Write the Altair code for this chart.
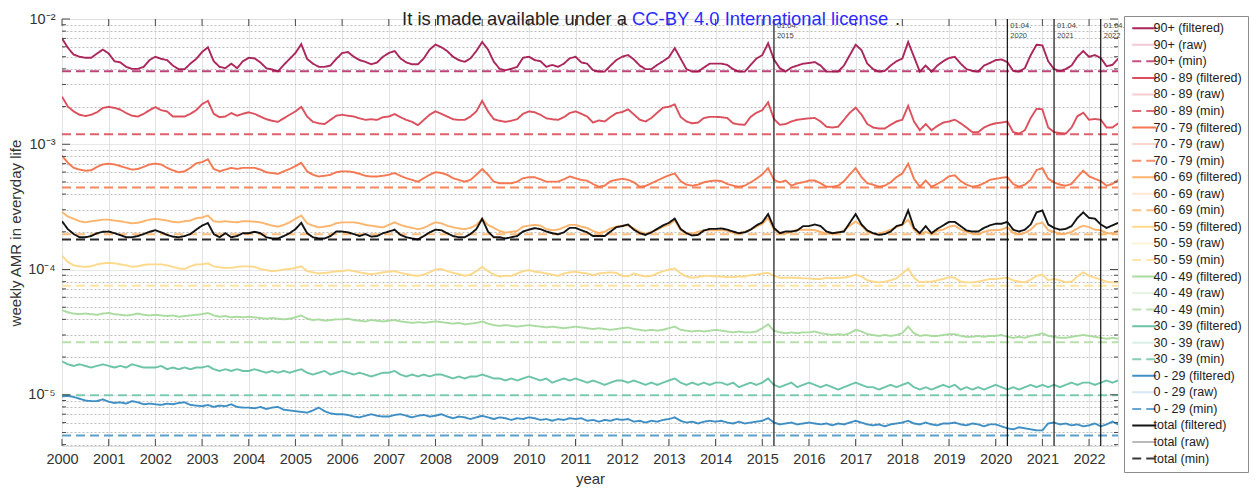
import altair as alt
import pandas as pd

# ---------------- data (weekly AMR, values per million, sampled every 1/8 year from 2000.0) ----------
START_YEAR = 2000.0
STEP = 0.125
X_END = 2022.62

groups = ["90+", "80 - 89", "70 - 79", "60 - 69", "50 - 59", "40 - 49", "30 - 39", "0 - 29", "total"]

amr_90 = [
    7000, 5900, 5200, 5000, 4900, 4900, 5300, 5700,
    5300, 4600, 4500, 4150, 4000, 4000, 4150, 4700,
    5000, 4800, 4700, 4250, 3970, 3970, 4400, 4800,
    5450, 5950, 4600, 4150, 4050, 4400, 4050, 4600,
    4900, 4850, 4500, 4050, 3950, 3820, 4300, 4800,
    5350, 6300, 4800, 4400, 4150, 4150, 4250, 4800,
    5350, 5450, 5000, 4700, 4550, 4350, 4500, 5000,
    5350, 5550, 4850, 4500, 4350, 4350, 4850, 5700,
    6250, 5950, 5550, 5000, 4700, 4550, 4850, 5550,
    6550, 5700, 4550, 4000, 3900, 4000, 4150, 4900,
    5000, 4700, 4600, 4150, 4300, 4150, 4400, 4850,
    5000, 4500, 4400, 3900, 3800, 3800, 4250, 4700,
    5000, 5150, 4750, 4250, 3980, 3980, 4300, 4600,
    4950, 5850, 4830, 3980, 3800, 3800, 4100, 4400,
    4400, 4400, 4300, 3980, 3800, 3800, 4300, 4830,
    5150, 6400, 4750, 4050, 3800, 4100, 4250, 4400,
    4450, 4530, 4250, 3800, 3800, 3800, 4250, 5150,
    6230, 5650, 4400, 3980, 3800, 3850, 4250, 4600,
    4830, 6550, 4990, 3800, 4250, 3800, 4250, 4600,
    4880, 4990, 4400, 3980, 3850, 3800, 4250, 4450,
    4700, 4750, 4530, 3850, 3800, 4050, 5150, 6230,
    6150, 4600, 3980, 3850, 3980, 4250, 4990, 5550,
    4990, 5150, 4880, 4200, 4300, 4830,
]
amr_80 = [
    2400, 2000, 1830, 1720, 1680, 1720, 1800, 1950,
    1990, 1950, 1890, 1775, 1690, 1665, 1750, 1870,
    1980, 1870, 1830, 1665, 1665, 1665, 1750, 1870,
    2090, 2220, 1750, 1645, 1665, 1775, 1690, 1750,
    1800, 1750, 1665, 1585, 1540, 1510, 1610, 1720,
    1830, 1990, 1665, 1510, 1470, 1450, 1565, 1690,
    1720, 1690, 1665, 1610, 1565, 1585, 1565, 1645,
    1665, 1740, 1645, 1565, 1510, 1420, 1565, 1720,
    1830, 1750, 1665, 1585, 1565, 1565, 1665, 1830,
    2220, 1830, 1585, 1540, 1510, 1540, 1585, 1750,
    1830, 1800, 1720, 1610, 1585, 1565, 1645, 1775,
    1830, 1750, 1665, 1490, 1550, 1520, 1650, 1770,
    1810, 1900, 1730, 1570, 1520, 1620, 1785, 1960,
    1990, 2080, 1655, 1520, 1470, 1490, 1620, 1655,
    1655, 1645, 1620, 1470, 1440, 1430, 1655, 1785,
    1870, 2160, 1590, 1430, 1450, 1520, 1570, 1590,
    1610, 1620, 1520, 1380, 1360, 1380, 1570, 1785,
    1960, 1730, 1450, 1360, 1335, 1335, 1430, 1520,
    1570, 2025, 1520, 1295, 1450, 1295, 1400, 1490,
    1520, 1570, 1470, 1360, 1250, 1250, 1360, 1430,
    1470, 1490, 1520, 1250, 1215, 1295, 1620, 1920,
    1900, 1360, 1250, 1230, 1215, 1360, 1675, 1785,
    1570, 1590, 1570, 1360, 1360, 1470,
]
amr_70 = [
    808, 712, 648, 628, 615, 620, 660, 690,
    700, 690, 669, 648, 628, 635, 660, 690,
    700, 690, 648, 620, 598, 608, 648, 705,
    720, 758, 635, 608, 628, 648, 635, 648,
    648, 648, 628, 598, 589, 580, 608, 635,
    669, 712, 608, 571, 553, 560, 571, 598,
    608, 608, 598, 580, 560, 553, 553, 560,
    571, 589, 560, 536, 519, 503, 536, 571,
    598, 589, 571, 536, 519, 503, 519, 571,
    635, 571, 503, 488, 488, 488, 503, 536,
    545, 545, 525, 503, 503, 503, 525, 553,
    536, 519, 512, 481, 458, 467, 508, 520,
    530, 520, 497, 458, 465, 488, 513, 540,
    565, 584, 508, 476, 467, 476, 497, 508,
    513, 508, 482, 467, 458, 467, 497, 530,
    575, 645, 520, 497, 513, 467, 488, 497,
    513, 513, 488, 458, 458, 467, 508, 575,
    645, 547, 488, 476, 458, 467, 497, 547,
    584, 700, 530, 458, 513, 458, 482, 513,
    555, 565, 508, 476, 458, 467, 488, 520,
    530, 540, 547, 482, 458, 476, 520, 622,
    645, 530, 497, 476, 467, 482, 547, 615,
    555, 530, 508, 467, 482, 520,
]
amr_60 = [
    288, 265, 254, 243, 238, 243, 246, 250,
    250, 246, 243, 238, 234, 236, 243, 250,
    254, 250, 246, 240, 238, 243, 246, 257,
    260, 270, 243, 240, 243, 240, 238, 243,
    243, 241, 238, 231, 224, 220, 227, 238,
    254, 270, 234, 224, 217, 220, 224, 234,
    238, 238, 238, 234, 227, 224, 220, 217,
    227, 238, 227, 220, 215, 210, 215, 227,
    238, 234, 224, 217, 213, 210, 215, 227,
    254, 227, 215, 203, 197, 200, 203, 220,
    224, 227, 224, 210, 206, 208, 217, 227,
    227, 220, 215, 203, 196, 200, 213, 220,
    224, 224, 213, 200, 193, 200, 208, 220,
    227, 248, 206, 196, 193, 200, 206, 206,
    206, 206, 204, 196, 196, 200, 208, 220,
    231, 258, 208, 196, 193, 200, 208, 208,
    208, 206, 200, 193, 193, 196, 206, 224,
    242, 224, 200, 193, 193, 200, 208, 218,
    227, 250, 208, 191, 200, 191, 204, 208,
    220, 224, 208, 200, 193, 191, 200, 206,
    206, 208, 218, 196, 191, 196, 208, 231,
    237, 206, 200, 193, 193, 200, 213, 224,
    218, 208, 206, 196, 193, 206,
]
amr_50 = [
    129, 115, 108, 106, 105, 106, 110, 112,
    113, 112, 110, 108, 105, 106, 109, 110,
    110, 110, 108, 105, 102, 101, 106, 110,
    110, 112, 106, 104, 103, 103, 105, 106,
    106, 105, 101, 99, 97, 98, 100, 101,
    103, 106, 97, 95, 93, 94, 95, 97,
    97, 99, 97, 95, 93, 92, 93, 95,
    96, 97, 94, 92, 90, 89, 91, 95,
    100, 101, 97, 94, 92, 89, 91, 97,
    105, 97, 91, 88, 89, 89, 93, 97,
    99, 96, 95, 93, 91, 89, 93, 95,
    96, 94, 93, 90, 93, 94, 95, 94,
    89, 88, 93, 90, 88, 89, 93, 97,
    100, 102, 93, 88, 86, 87, 89, 89,
    88, 88, 87, 87, 88, 88, 90, 91,
    93, 94, 89, 86, 86, 86, 86, 85,
    85, 84, 84, 86, 85, 86, 86, 88,
    91, 88, 82, 80, 79, 80, 82, 85,
    93, 102, 86, 79, 80, 80, 82, 84,
    87, 86, 80, 79, 79, 80, 82, 84,
    84, 85, 86, 82, 80, 79, 83, 89,
    91, 82, 84, 82, 79, 80, 88, 95,
    89, 86, 83, 80, 79, 79,
]
amr_40 = [
    47.5, 45.5, 44.5, 44.0, 44.5, 44.0, 43.5, 44.5,
    45.0, 44.0, 43.5, 43.0, 43.5, 44.5, 43.5, 43.0,
    43.5, 43.0, 42.5, 43.0, 42.0, 42.5, 43.0, 43.5,
    44.0, 45.0, 43.0, 42.0, 42.5, 41.5, 42.0, 41.5,
    42.0, 41.5, 41.0, 40.5, 41.0, 40.5, 40.0, 40.5,
    41.5, 43.0, 40.5, 39.5, 40.0, 39.0, 39.5, 40.0,
    40.0, 40.5, 39.5, 39.0, 38.5, 39.5, 39.0, 38.5,
    39.0, 39.5, 38.5, 38.0, 37.5, 38.0, 37.5, 38.0,
    38.5, 38.0, 37.5, 37.0, 37.5, 36.5, 37.0, 37.5,
    38.5, 37.0, 36.0, 35.5, 36.0, 35.5, 35.0, 35.5,
    36.0, 35.5, 35.0, 34.5, 35.0, 34.5, 34.0, 34.5,
    35.0, 34.5, 34.0, 33.5, 34.0, 33.5, 33.0, 33.5,
    34.0, 34.5, 33.5, 33.0, 32.5, 33.0, 32.5, 33.0,
    34.0, 35.0, 33.0, 32.5, 32.0, 32.5, 32.0, 32.5,
    33.0, 32.5, 32.0, 31.5, 32.0, 31.5, 31.5, 32.0,
    34.0, 36.5, 32.5, 31.5, 31.0, 31.5, 31.0, 31.5,
    31.5, 32.0, 31.0, 30.5, 30.0, 30.5, 30.0, 31.0,
    33.0, 32.0, 30.5, 30.0, 29.5, 30.0, 29.5, 30.0,
    31.0, 35.0, 31.0, 29.5, 30.0, 29.5, 29.5, 30.0,
    30.5, 30.5, 29.5, 29.0, 29.0, 29.5, 29.0, 29.5,
    29.5, 30.0, 29.0, 28.5, 29.0, 28.5, 29.5, 30.0,
    31.0, 29.5, 29.0, 28.5, 28.5, 29.0, 29.5, 30.0,
    29.5, 29.0, 28.5, 28.0, 28.5, 28.0,
]
amr_30 = [
    18.5, 17.5, 17.0, 17.5, 17.0, 16.5, 17.0, 17.5,
    17.0, 16.5, 17.0, 16.5, 17.5, 17.0, 16.5, 16.5,
    16.5, 17.0, 16.0, 16.5, 16.0, 16.5, 16.0, 16.5,
    16.5, 17.0, 16.0, 15.5, 16.0, 15.5, 16.0, 15.5,
    15.5, 16.0, 15.5, 15.0, 15.5, 15.0, 15.5, 15.0,
    15.5, 16.0, 15.0, 14.5, 15.0, 15.5, 14.5, 15.0,
    15.5, 15.0, 14.5, 15.0, 14.5, 14.0, 14.5, 15.0,
    15.0, 15.5, 14.5, 14.0, 14.5, 14.0, 14.5, 14.0,
    14.5, 14.5, 14.0, 13.5, 14.0, 13.5, 14.0, 14.0,
    14.5, 14.0, 13.5, 13.5, 13.0, 13.5, 13.0, 13.5,
    14.0, 13.5, 13.0, 13.5, 12.5, 13.0, 13.5, 13.0,
    13.5, 13.0, 12.5, 13.0, 12.5, 12.0, 12.5, 13.0,
    13.0, 12.5, 13.0, 12.5, 12.0, 12.5, 12.0, 12.5,
    13.0, 13.5, 12.5, 12.0, 12.5, 12.0, 12.5, 12.0,
    12.5, 12.5, 12.0, 12.5, 11.5, 12.0, 12.5, 12.0,
    12.5, 13.5, 12.0, 11.5, 12.0, 12.5, 11.5, 12.0,
    12.5, 12.0, 11.5, 12.0, 11.5, 11.0, 11.5, 12.0,
    12.5, 12.0, 11.5, 11.5, 11.0, 11.5, 12.0, 11.5,
    12.0, 12.5, 11.5, 11.0, 11.5, 11.0, 11.5, 12.0,
    11.5, 12.0, 11.0, 11.5, 11.0, 11.5, 11.0, 11.5,
    12.0, 11.5, 11.0, 11.5, 11.0, 11.5, 12.0, 11.5,
    12.0, 11.5, 12.0, 11.5, 12.0, 12.5, 12.0, 12.5,
    12.5, 12.0, 12.5, 13.0, 12.5, 13.0,
]
amr_0 = [
    9.7, 9.8, 9.6, 9.3, 9.0, 8.9, 8.9, 9.2,
    8.8, 8.6, 8.7, 8.5, 8.9, 8.7, 8.4, 8.5,
    8.4, 8.3, 8.5, 8.4, 8.6, 8.7, 8.3, 8.2,
    8.1, 8.3, 8.0, 8.2, 8.1, 8.4, 8.0, 7.9,
    7.9, 7.8, 8.0, 7.7, 7.9, 8.0, 7.6, 7.5,
    7.4, 7.3, 7.2, 7.5, 7.9, 7.4, 7.1, 7.0,
    7.0, 6.9, 6.7, 6.6, 6.8, 7.0, 6.8, 6.7,
    6.7, 6.9, 7.0, 6.8, 6.6, 6.8, 6.9, 6.7,
    6.8, 7.0, 6.7, 6.5, 6.7, 6.6, 6.4, 6.6,
    6.8, 6.6, 6.4, 6.6, 6.5, 6.3, 6.5, 6.4,
    6.6, 6.5, 6.3, 6.4, 6.2, 6.4, 6.3, 6.5,
    6.4, 6.5, 6.2, 6.3, 6.1, 6.3, 6.2, 6.4,
    6.3, 6.4, 6.1, 6.2, 6.0, 6.2, 6.1, 6.3,
    6.4, 6.6, 6.2, 6.0, 6.1, 5.9, 6.1, 6.2,
    6.1, 6.2, 6.0, 5.9, 6.1, 5.9, 6.0, 6.1,
    6.2, 6.5, 6.0, 5.8, 5.9, 6.0, 5.8, 5.9,
    6.0, 5.9, 5.8, 5.9, 5.7, 5.9, 5.8, 6.0,
    6.2, 6.0, 5.8, 5.7, 5.8, 5.6, 5.8, 5.9,
    6.0, 6.2, 5.9, 5.8, 6.0, 5.8, 5.7, 5.9,
    5.9, 6.0, 5.8, 5.7, 5.9, 5.8, 5.6, 5.8,
    5.8, 5.6, 5.4, 5.3, 5.5, 5.4, 5.3, 5.2,
    5.2, 5.9, 6.0, 5.8, 5.9, 5.7, 5.8, 5.6,
    5.7, 5.9, 5.6, 5.8, 6.1, 5.8,
]
amr_total = [
    243, 210, 192, 181, 181, 185, 195, 200,
    201, 195, 188, 181, 181, 185, 192, 200,
    206, 198, 189, 183, 181, 185, 192, 208,
    224, 235, 192, 181, 195, 181, 185, 195,
    195, 200, 195, 181, 177, 177, 185, 195,
    210, 236, 195, 181, 177, 177, 185, 201,
    201, 198, 192, 185, 192, 183, 185, 195,
    201, 208, 189, 181, 177, 174, 185, 198,
    208, 206, 195, 185, 181, 181, 192, 210,
    254, 201, 181, 181, 177, 181, 185, 201,
    208, 214, 210, 201, 195, 191, 198, 215,
    215, 206, 198, 185, 185, 185, 201, 218,
    222, 229, 208, 195, 189, 198, 211, 225,
    236, 255, 211, 195, 187, 189, 205, 211,
    211, 213, 208, 201, 195, 198, 208, 225,
    238, 277, 215, 195, 201, 201, 205, 222,
    222, 229, 222, 201, 195, 198, 201, 236,
    277, 229, 205, 195, 189, 192, 201, 222,
    229, 296, 215, 195, 222, 195, 211, 225,
    240, 240, 222, 205, 201, 201, 215, 225,
    232, 232, 240, 208, 201, 208, 229, 286,
    296, 229, 215, 208, 211, 222, 258, 286,
    258, 255, 229, 215, 225, 236,
]
amr_min = [3820, 1200, 452, 191, 74.3, 26.3, 9.9, 4.74, 174]

filtered_colors = ["#a3134d", "#d9404f", "#f46d43", "#fdae61", "#fed680", "#a3d897", "#5fbf9f", "#2f86c0", "#000000"]
raw_colors = ["#f3c3d4", "#f7c9cd", "#fcd3c6", "#fee6cf", "#fff3d6", "#e6f4e2", "#d6efe6", "#d4e6f3", "#b5b5b5"]
min_colors = ["#bf4378", "#e0606c", "#f7875f", "#fdbd7c", "#fee4a0", "#b7e0ab", "#7ccbb0", "#5b9fcd", "#2a2a2a"]

event_dates = [2015.25, 2020.25, 2021.25, 2022.25]
event_labels = ["01.04.\n2015", "01.04.\n2020", "01.04.\n2021", "01.04.\n2022"]

title_parts = ["It is made available under a", "CC-BY 4.0 International license", "."]
year_ticks = list(range(2000, 2023))

series_values = [amr_90, amr_80, amr_70, amr_60, amr_50, amr_40, amr_30, amr_0, amr_total]

# ---------------- tables ----------------
PER_MILLION = 1e-6
filt_rows, min_rows = [], []
for g, vals in zip(groups, series_values):
    for i, v in enumerate(vals):
        filt_rows.append({"t": START_YEAR + i * STEP, "v": v * PER_MILLION, "series": f"{g} (filtered)"})
for g, m in zip(groups, amr_min):
    for t in (START_YEAR, X_END):
        min_rows.append({"t": t, "v": m * PER_MILLION, "series": f"{g} (min)"})
df_filt = pd.DataFrame(filt_rows)
df_min = pd.DataFrame(min_rows)
df_events = pd.DataFrame({"t": event_dates, "label": event_labels})

legend_domain, legend_colors, legend_dashes = [], [], []
for g, fc, rc, mc in zip(groups, filtered_colors, raw_colors, min_colors):
    legend_domain += [f"{g} (filtered)", f"{g} (raw)", f"{g} (min)"]
    legend_colors += [fc, rc, mc]
    legend_dashes += [[1, 0], [1, 0], [9, 5]]

FONT = "Liberation Sans"
Y_MIN, Y_MAX = 3.9e-6, 1e-2
W, H = 1056, 427

minor_vals = []
for k in range(-6, -2):
    for m in range(1, 10):
        val = float(f"{m}e{k}")
        if Y_MIN <= val <= Y_MAX:
            minor_vals.append(val)
minor_vals.append(1e-2)
major_vals = [1e-5, 1e-4, 1e-3, 1e-2]
df_minor = pd.DataFrame({"v": [v for v in minor_vals if v not in major_vals]})
df_major = pd.DataFrame({"v": major_vals})
df_years = pd.DataFrame({"t": [float(y) for y in year_ticks]})

is_decade = "abs(log(datum.value)/LN10 - round(log(datum.value)/LN10)) < 0.001"
lg = "round(log(datum.value)/LN10)"
label_expr = (f"{is_decade} ? ({lg} == -2 ? '10⁻²' : {lg} == -3 ? '10⁻³' : "
              f"{lg} == -4 ? '10⁻⁴' : {lg} == -5 ? '10⁻⁵' : '') : ''")

x_scale = alt.Scale(domain=[2000, X_END], nice=False, zero=False)
y_scale = alt.Scale(type="log", domain=[Y_MIN, Y_MAX], nice=False)

x_enc = alt.X("t:Q", scale=x_scale,
              axis=alt.Axis(values=year_ticks, format="d", title="year",
                            labelFontSize=14.5, titleFontSize=15, titleFontWeight="normal",
                            labelFont=FONT, titleFont=FONT, labelColor="#333", titleColor="#333",
                            grid=True, gridColor="#e3e3e3", domain=False, ticks=False,
                            labelPadding=6, titlePadding=6, labelFlush=False, labelOverlap=False))
y_enc = alt.Y("v:Q", scale=y_scale,
              axis=alt.Axis(values=minor_vals, labelExpr=label_expr, title="weekly AMR in everyday life",
                            labelFontSize=14.5, titleFontSize=15, titleFontWeight="normal",
                            labelFont=FONT, titleFont=FONT, labelColor="#333", titleColor="#333",
                            grid=True,
                            gridDash={"condition": {"test": is_decade, "value": [1, 0]}, "value": [2, 2]},
                            gridColor={"condition": {"test": is_decade, "value": "#dedede"}, "value": "#bdbdbd"},
                            domain=False, ticks=False, labelPadding=7, titlePadding=4,
                            labelFlush=False, labelOverlap=False))

legend = alt.Legend(orient="none", legendX=1062, legendY=-3,
                    symbolType="M-1,0H5", symbolSize=64, symbolStrokeWidth=2,
                    labelFontSize=12.5, labelFont=FONT, labelColor="#222", labelOffset=11,
                    rowPadding=3.55, padding=6, strokeColor="#8c8c8c", fillColor="white",
                    symbolLimit=40)
color_enc = alt.Color("series:N", scale=alt.Scale(domain=legend_domain, range=legend_colors),
                      legend=legend, title=None)
dash_enc = alt.StrokeDash("series:N", scale=alt.Scale(domain=legend_domain, range=legend_dashes),
                          legend=legend, title=None)

min_layer = alt.Chart(df_min).mark_line(strokeWidth=2, clip=True).encode(
    x=x_enc, y=y_enc, color=color_enc, strokeDash=dash_enc, detail="series:N")
filt_layer = alt.Chart(df_filt).mark_line(strokeWidth=1.9, clip=True, opacity=0.92).encode(
    x=x_enc, y=y_enc, color=color_enc, strokeDash=dash_enc, detail="series:N")

# inward box ticks (MATLAB style), sharing the main axes definitions
TICK_C = "#4a4a4a"
def y_ticks(df, x0, x1):
    return alt.Chart(df).mark_rule(color=TICK_C, strokeWidth=1).encode(
        y=y_enc, x=alt.value(x0), x2=alt.value(x1))
def x_ticks(y0, y1):
    return alt.Chart(df_years).mark_rule(color=TICK_C, strokeWidth=1).encode(
        x=x_enc, y=alt.value(y0), y2=alt.value(y1))
tick_layers = [y_ticks(df_minor, 0, 4), y_ticks(df_major, 0, 8),
               y_ticks(df_minor, W, W - 4), y_ticks(df_major, W, W - 8),
               x_ticks(H, H - 7), x_ticks(0, 7)]

event_rules = alt.Chart(df_events).mark_rule(color="#111", strokeWidth=1.2).encode(x=x_enc)
event_text = alt.Chart(df_events).mark_text(align="left", baseline="top", dx=3, dy=3, fontSize=7.5,
                                            lineBreak="\n", color="#444", font=FONT).encode(
    x=x_enc, y=alt.value(0), text="label:N")

title_df = pd.DataFrame({"txt": title_parts})
TFS = 18.4
title_black = alt.Chart(title_df.iloc[[0]]).mark_text(align="right", baseline="alphabetic", fontSize=TFS,
                                                     font=FONT, color="#222").encode(
    x=alt.value(565), y=alt.value(5.5), text="txt:N")
title_blue = alt.Chart(title_df.iloc[[1]]).mark_text(align="left", baseline="alphabetic", fontSize=TFS,
                                                    font=FONT, color="#2a2aff").encode(
    x=alt.value(570), y=alt.value(5.5), text="txt:N")
title_dot = alt.Chart(title_df.iloc[[2]]).mark_text(align="left", baseline="alphabetic", fontSize=TFS,
                                                   font=FONT, color="#222").encode(
    x=alt.value(833), y=alt.value(5.5), text="txt:N")

chart = alt.layer(min_layer, filt_layer, *tick_layers, event_rules, event_text,
                  title_black, title_blue, title_dot).properties(
    width=W, height=H,
    autosize=alt.AutoSizeParams(type="none"),
    padding={"left": 54, "top": 11, "right": 132, "bottom": 42},
).configure_view(stroke="#555", strokeWidth=1).configure(background="white")

chart.save("out.html", embed_options={"renderer": "svg", "actions": False})
